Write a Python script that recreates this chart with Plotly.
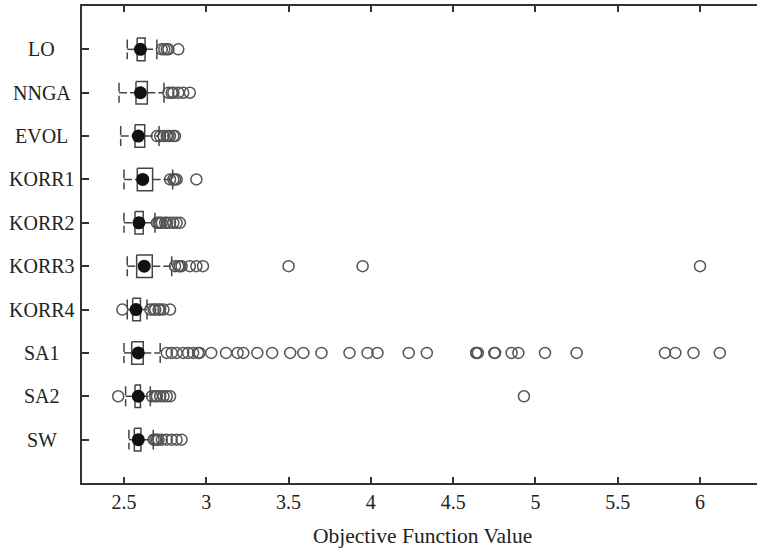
import plotly.graph_objects as go

categories = ["LO", "NNGA", "EVOL", "KORR1", "KORR2", "KORR3", "KORR4", "SA1", "SA2", "SW"]

lower_whisker = [2.52, 2.47, 2.48, 2.50, 2.50, 2.52, 2.52, 2.50, 2.51, 2.53]
q1 = [2.580, 2.573, 2.567, 2.581, 2.567, 2.577, 2.553, 2.547, 2.567, 2.563]
median = [2.600, 2.600, 2.587, 2.614, 2.591, 2.623, 2.573, 2.587, 2.587, 2.587]
q3 = [2.628, 2.642, 2.626, 2.674, 2.617, 2.672, 2.600, 2.617, 2.600, 2.603]
upper_whisker = [2.700, 2.743, 2.713, 2.796, 2.688, 2.790, 2.640, 2.720, 2.660, 2.678]

out_LO = [2.73, 2.745, 2.76, 2.77, 2.83]
out_NNGA = [2.77, 2.79, 2.80, 2.83, 2.86, 2.90]
out_EVOL = [2.70, 2.72, 2.74, 2.76, 2.77, 2.78, 2.80, 2.81]
out_KORR1 = [2.78, 2.80, 2.81, 2.82, 2.94]
out_KORR2 = [2.70, 2.71, 2.72, 2.73, 2.75, 2.76, 2.78, 2.80, 2.82, 2.84]
out_KORR3 = [2.81, 2.83, 2.84, 2.85, 2.90, 2.94, 2.98, 3.50, 3.95, 6.00]
out_KORR4 = [2.49, 2.66, 2.68, 2.69, 2.71, 2.72, 2.74, 2.78]
out_SA1 = [2.76, 2.79, 2.82, 2.86, 2.89, 2.92, 2.95, 2.96, 3.03, 3.12, 3.19, 3.225,
           3.31, 3.40, 3.51, 3.59, 3.70, 3.87, 3.98, 4.04, 4.23, 4.34, 4.64, 4.64,
           4.65, 4.75, 4.755, 4.855, 4.896, 5.058, 5.25, 5.787, 5.85, 5.96, 6.12]
out_SA2 = [2.465, 2.67, 2.69, 2.70, 2.72, 2.74, 2.76, 2.78, 4.93]
out_SW = [2.68, 2.69, 2.70, 2.71, 2.73, 2.76, 2.79, 2.82, 2.85]

outliers = [out_LO, out_NNGA, out_EVOL, out_KORR1, out_KORR2, out_KORR3,
            out_KORR4, out_SA1, out_SA2, out_SW]

x_ticks = [2.5, 3, 3.5, 4, 4.5, 5, 5.5, 6]
x_tick_labels = ["2.5", "3", "3.5", "4", "4.5", "5", "5.5", "6"]

BOX_H = 0.26
CAP_H = 0.23
FONT = "Liberation Serif, Times New Roman, serif"
TXT = "#222222"
LINE = "#444444"

fig = go.Figure()

# outliers
ox, oy = [], []
for i, vals in enumerate(outliers):
    ox += vals
    oy += [i] * len(vals)
fig.add_trace(go.Scatter(
    x=ox, y=oy, mode="markers",
    marker=dict(symbol="circle-open", size=11, color="#555555", line=dict(width=1.5)),
    hoverinfo="x", showlegend=False))

# whiskers (dashed)
wx, wy = [], []
for i in range(len(categories)):
    wx += [lower_whisker[i], q1[i], None, q3[i], upper_whisker[i], None]
    wy += [i, i, None, i, i, None]
fig.add_trace(go.Scatter(x=wx, y=wy, mode="lines",
                         line=dict(color=LINE, width=1.5, dash="8px,3px"),
                         hoverinfo="skip", showlegend=False))

# whisker caps (dashed vertical)
cx, cy = [], []
for i in range(len(categories)):
    for v in (lower_whisker[i], upper_whisker[i]):
        cx += [v, v, None]
        cy += [i - CAP_H, i + CAP_H, None]
fig.add_trace(go.Scatter(x=cx, y=cy, mode="lines",
                         line=dict(color=LINE, width=1.5, dash="9px,4px"),
                         hoverinfo="skip", showlegend=False))

# boxes
bx, by = [], []
for i in range(len(categories)):
    bx += [q1[i], q3[i], q3[i], q1[i], q1[i], None]
    by += [i - BOX_H, i - BOX_H, i + BOX_H, i + BOX_H, i - BOX_H, None]
fig.add_trace(go.Scatter(x=bx, y=by, mode="lines",
                         line=dict(color=LINE, width=1.5),
                         hoverinfo="skip", showlegend=False))

# medians
fig.add_trace(go.Scatter(x=median, y=list(range(len(categories))), mode="markers",
                         marker=dict(symbol="circle", size=13, color="#111111"),
                         hoverinfo="x", showlegend=False))

# category labels (centred like the reference)
annotations = []
for i, c in enumerate(categories):
    annotations.append(dict(text=c, xref="paper", yref="y", x=-0.0593, y=i,
                            xanchor="center", yanchor="middle", showarrow=False,
                            font=dict(family=FONT, size=20, color=TXT)))
annotations.append(dict(text="Objective Function Value", xref="paper", yref="paper",
                        x=0.505, y=0, yshift=-53, xanchor="center", yanchor="middle",
                        showarrow=False, font=dict(family=FONT, size=21.5, color=TXT)))

fig.update_layout(
    width=757, height=552,
    margin=dict(l=82, r=0, t=6, b=69),
    paper_bgcolor="white", plot_bgcolor="white",
    showlegend=False,
    annotations=annotations,
    xaxis=dict(range=[2.245, 6.346], tickvals=x_ticks, ticktext=x_tick_labels,
               ticks="inside", ticklen=6, tickwidth=1.5, tickcolor="#333333",
               showline=True, linecolor="#333333", linewidth=1.5, mirror="ticks",
               showgrid=False, zeroline=False,
               tickfont=dict(family=FONT, size=20, color=TXT)),
    yaxis=dict(range=[10, -1], tickvals=list(range(len(categories))),
               ticktext=[""] * len(categories),
               ticks="inside", ticklen=7, tickwidth=1.5, tickcolor="#333333",
               showline=True, linecolor="#333333", linewidth=1.5, mirror=False,
               showgrid=False, zeroline=False),
)

fig.write_html("out.html")
